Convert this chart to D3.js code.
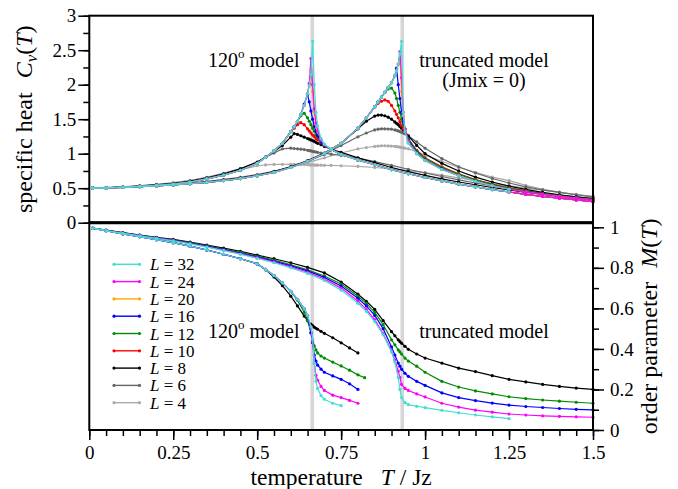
<!DOCTYPE html>
<html><head><meta charset="utf-8">
<script src="https://cdn.jsdelivr.net/npm/d3@7"></script>
<style>
body{margin:0;background:#fff}
text{font-family:"Liberation Serif","Times New Roman",serif;fill:#000}
</style>
</head><body>
<svg id="chart" width="678" height="489"></svg>
<script>
// ---------------- DATA ----------------
const L_sizes = [32, 24, 20, 16, 12, 10, 8, 6, 4];
const Tc = [0.664, 0.932];           // critical temperatures (grey bands)
const xTicks = [0, 0.25, 0.5, 0.75, 1, 1.25, 1.5];
const cvTicks = [0, 0.5, 1, 1.5, 2, 2.5, 3];
const mTicks = [0, 0.2, 0.4, 0.6, 0.8, 1];

// specific heat, 120 degree model
const T_cv120 = [0.01,0.05,0.1,0.15,0.2,0.25,0.3,0.35,0.4,0.45,
 0.5,0.525,0.55,0.575,0.6,0.61,0.62,0.63,0.64,0.65,
 0.655,0.66,0.665,0.67,0.675,0.68,0.69,0.7,0.72,0.75,
 0.8,0.85,0.9,0.95,1.0,1.05,1.1,1.15,1.2,1.25,
 1.3,1.35,1.4,1.45,1.5];
const cv120_L32 = [0.50,0.505,0.515,0.528,0.543,0.56,0.59,0.635,0.69,0.76,
 0.86,0.95,1.04,1.15,1.32,1.39,1.47,1.57,1.70,1.87,
 1.98,2.15,2.63,2.0,1.6,1.4,1.22,1.14,1.06,0.99,
 0.91,0.84,0.77,0.71,0.655,0.605,0.56,0.52,0.48,0.445,
 null,null,null,null,null];
const cv120_L24 = [0.50,0.505,0.515,0.528,0.543,0.56,0.59,0.635,0.69,0.76,
 0.86,0.95,1.04,1.15,1.32,1.39,1.47,1.57,1.70,1.87,
 2.02,2.38,2.0,1.65,1.45,1.33,1.2,1.13,1.06,0.99,
 0.91,0.84,0.77,0.71,0.655,0.605,0.56,0.52,0.48,0.445,
 0.41,0.38,0.355,0.33,0.305];
const cv120_L20 = [0.50,0.505,0.515,0.528,0.543,0.56,0.59,0.635,0.69,0.76,
 0.86,0.95,1.04,1.15,1.32,1.39,1.47,1.57,1.70,1.87,
 2.0,2.22,1.9,1.6,1.42,1.32,1.2,1.13,1.06,0.99,
 0.91,0.84,0.77,0.71,0.655,0.605,0.56,0.52,0.48,0.445,
 0.41,0.38,0.355,0.33,0.305];
const cv120_L16 = [0.50,0.505,0.515,0.528,0.543,0.56,0.59,0.635,0.69,0.76,
 0.86,0.95,1.04,1.15,1.32,1.39,1.47,1.57,1.72,1.86,
 1.75,1.62,1.5,1.4,1.32,1.26,1.17,1.12,1.06,0.99,
 0.91,0.84,0.77,0.71,0.655,0.605,0.56,0.52,0.48,0.445,
 0.41,0.38,0.355,0.33,0.305];
const cv120_L12 = [0.50,0.505,0.515,0.528,0.543,0.56,0.59,0.635,0.69,0.76,
 0.86,0.95,1.04,1.15,1.32,1.39,1.47,1.55,1.585,1.52,
 1.47,1.42,1.37,1.33,1.28,1.24,1.17,1.12,1.06,0.99,
 0.91,0.84,0.77,0.71,0.655,0.605,0.56,0.52,0.48,0.445,
 0.41,0.38,0.355,0.33,0.305];
const cv120_L10 = [0.50,0.505,0.515,0.528,0.543,0.56,0.59,0.635,0.69,0.76,
 0.86,0.95,1.04,1.15,1.32,1.37,1.42,1.45,1.42,1.36,
 1.33,1.3,1.27,1.25,1.22,1.2,1.16,1.12,1.06,0.99,
 0.91,0.84,0.77,0.71,0.655,0.605,0.56,0.52,0.48,0.445,
 0.41,0.38,0.355,0.33,0.305];
const cv120_L8 = [0.50,0.506,0.517,0.531,0.547,0.567,0.6,0.647,0.705,0.78,
 0.88,0.95,1.03,1.12,1.24,1.29,1.28,1.26,1.24,1.22,
 1.21,1.2,1.19,1.18,1.165,1.15,1.13,1.105,1.065,1.02,
 0.94,0.87,0.80,0.74,0.685,0.635,0.59,0.55,0.51,0.475,
 0.44,0.41,0.38,0.355,0.33];
const cv120_L6 = [0.50,0.507,0.519,0.534,0.552,0.574,0.608,0.656,0.715,0.785,
 0.875,0.95,1.01,1.07,1.08,1.075,1.07,1.065,1.06,1.05,
 1.045,1.04,1.035,1.03,1.025,1.02,1.01,1.005,0.995,0.975,
 0.935,0.885,0.83,0.775,0.72,0.67,0.62,0.575,0.535,0.5,
 0.465,0.43,0.4,0.375,0.35];
const cv120_L4 = [0.50,0.508,0.521,0.537,0.556,0.58,0.615,0.655,0.705,0.765,
 0.825,0.838,0.845,0.846,0.845,0.844,0.843,0.842,0.841,0.84,
 0.839,0.838,0.837,0.836,0.835,0.834,0.833,0.832,0.83,0.825,
 0.815,0.8,0.78,0.755,0.725,0.69,0.65,0.61,0.57,0.535,
 0.5,0.47,0.44,0.41,0.38];

// specific heat, truncated model (Jmix = 0)
const T_cvTr = [0.01,0.05,0.1,0.15,0.2,0.25,0.3,0.35,0.4,0.45,
 0.5,0.55,0.6,0.65,0.7,0.75,0.8,0.825,0.85,0.86,
 0.87,0.88,0.89,0.9,0.91,0.915,0.92,0.925,0.93,0.935,
 0.94,0.95,0.975,1.0,1.05,1.1,1.15,1.2,1.25,1.3,
 1.35,1.4,1.45,1.5];
const cvTr_L32 = [0.50,0.503,0.512,0.522,0.533,0.548,0.565,0.585,0.61,0.64,
 0.68,0.73,0.80,0.89,1.0,1.15,1.37,1.52,1.68,1.75,
 1.82,1.89,1.96,2.03,2.13,2.2,2.3,2.45,2.63,1.6,
 1.32,1.15,1.0,0.9,0.77,0.68,0.6,0.535,0.485,null,
 null,null,null,null];
const cvTr_L24 = [0.50,0.503,0.512,0.522,0.533,0.548,0.565,0.585,0.61,0.64,
 0.68,0.73,0.80,0.89,1.0,1.15,1.37,1.52,1.68,1.75,
 1.82,1.89,1.96,2.03,2.13,2.2,2.3,2.48,2.1,1.6,
 1.36,1.17,1.0,0.9,0.77,0.68,0.6,0.535,0.485,0.445,
 0.41,0.38,0.355,0.33];
const cvTr_L20 = [0.50,0.503,0.512,0.522,0.533,0.548,0.565,0.585,0.61,0.64,
 0.68,0.73,0.80,0.89,1.0,1.15,1.37,1.52,1.68,1.75,
 1.82,1.89,1.96,2.03,2.13,2.2,2.3,2.38,1.9,1.55,
 1.36,1.18,1.01,0.905,0.775,0.683,0.603,0.538,0.488,0.448,
 0.412,0.382,0.357,0.332];
const cvTr_L16 = [0.50,0.503,0.512,0.522,0.533,0.548,0.565,0.585,0.61,0.64,
 0.68,0.73,0.80,0.89,1.0,1.15,1.37,1.52,1.68,1.75,
 1.82,1.89,1.96,2.03,2.13,2.24,2.0,1.8,1.6,1.46,
 1.36,1.2,1.02,0.91,0.78,0.685,0.605,0.54,0.49,0.45,
 0.415,0.385,0.358,0.333];
const cvTr_L12 = [0.50,0.503,0.512,0.522,0.533,0.548,0.565,0.585,0.61,0.64,
 0.68,0.73,0.80,0.89,1.0,1.15,1.37,1.52,1.68,1.75,
 1.82,1.89,1.94,1.95,1.88,1.8,1.7,1.6,1.5,1.42,
 1.35,1.22,1.04,0.93,0.8,0.7,0.62,0.555,0.5,0.457,
 0.42,0.39,0.362,0.337];
const cvTr_L10 = [0.50,0.503,0.512,0.522,0.533,0.548,0.565,0.585,0.61,0.64,
 0.68,0.73,0.80,0.89,1.0,1.15,1.37,1.52,1.68,1.73,
 1.76,1.78,1.76,1.7,1.62,1.57,1.52,1.46,1.41,1.36,
 1.31,1.21,1.05,0.94,0.81,0.71,0.625,0.56,0.505,0.46,
 0.42,0.385,0.355,0.325];
const cvTr_L8 = [0.50,0.504,0.513,0.524,0.536,0.551,0.569,0.59,0.616,0.647,
 0.688,0.74,0.81,0.9,1.01,1.15,1.36,1.47,1.545,1.56,
 1.56,1.55,1.53,1.5,1.46,1.44,1.42,1.395,1.37,1.345,
 1.32,1.26,1.12,1.0,0.86,0.75,0.66,0.59,0.53,0.482,
 0.44,0.405,0.375,0.348];
const cvTr_L6 = [0.50,0.505,0.514,0.526,0.539,0.555,0.574,0.596,0.623,0.655,
 0.695,0.745,0.81,0.89,0.99,1.12,1.245,1.3,1.345,1.355,
 1.36,1.36,1.358,1.355,1.345,1.34,1.33,1.32,1.31,1.3,
 1.29,1.26,1.17,1.08,0.93,0.81,0.72,0.64,0.575,0.52,
 0.475,0.44,0.405,0.375];
const cvTr_L4 = [0.50,0.506,0.516,0.528,0.542,0.558,0.578,0.6,0.628,0.66,
 0.7,0.745,0.8,0.87,0.94,1.01,1.07,1.09,1.105,1.11,
 1.115,1.115,1.113,1.11,1.105,1.102,1.1,1.095,1.09,1.085,
 1.08,1.07,1.03,0.98,0.89,0.8,0.73,0.66,0.61,0.54,
 0.485,0.445,0.405,0.377];

// order parameter, 120 degree model (L = 32, 24, 16, 12, 8)
const T_m120 = [0.01,0.05,0.1,0.15,0.2,0.25,0.3,0.35,0.4,0.45,
 0.5,0.525,0.55,0.575,0.6,0.62,0.64,0.65,0.66,0.665,
 0.67,0.675,0.68,0.69,0.7,0.725,0.75,0.775,0.8,0.82];
const m120_L32 = [0.995,0.983,0.968,0.954,0.939,0.924,0.907,0.888,0.867,0.845,
 0.82,0.792,0.762,0.726,0.684,0.645,0.598,0.565,0.51,0.45,
 0.33,0.24,0.205,0.17,0.152,0.132,0.12,null,null,null];
const m120_L24 = [0.995,0.983,0.968,0.954,0.939,0.924,0.907,0.888,0.867,0.845,
 0.82,0.792,0.762,0.726,0.684,0.645,0.598,0.565,0.505,0.44,
 0.33,0.27,0.245,0.215,0.195,0.172,0.16,0.146,0.132,null];
const m120_L16 = [0.995,0.983,0.968,0.954,0.939,0.924,0.907,0.888,0.867,0.845,
 0.82,0.792,0.762,0.726,0.684,0.645,0.598,0.562,0.48,0.43,
 0.37,0.34,0.32,0.3,0.285,0.267,0.25,0.228,0.2,null];
const m120_L12 = [0.995,0.983,0.968,0.954,0.939,0.924,0.907,0.888,0.867,0.845,
 0.82,0.792,0.762,0.726,0.684,0.64,0.58,0.54,0.48,0.445,
 0.415,0.395,0.38,0.365,0.355,0.335,0.316,0.295,0.272,0.258];
const m120_L8 = [0.995,0.983,0.968,0.954,0.939,0.924,0.907,0.888,0.867,0.845,
 0.82,0.79,0.755,0.712,0.66,0.612,0.562,0.54,0.522,0.515,
 0.508,0.502,0.497,0.487,0.477,0.455,0.43,0.405,0.38,null];

// order parameter, truncated model (L = 32, 24, 16, 12, 8)
const T_mTr = [0.01,0.05,0.1,0.15,0.2,0.25,0.3,0.35,0.4,0.45,
 0.5,0.55,0.6,0.65,0.7,0.75,0.8,0.825,0.85,0.875,
 0.9,0.91,0.92,0.925,0.93,0.94,0.95,0.975,1.0,1.05,
 1.1,1.15,1.2,1.25,1.3,1.35,1.4,1.45,1.5];
const mTr_L32 = [0.996,0.984,0.97,0.958,0.946,0.933,0.918,0.902,0.885,0.867,
 0.847,0.825,0.8,0.772,0.738,0.69,0.625,0.585,0.535,0.47,
 0.385,0.335,0.26,0.2,0.16,0.135,0.125,0.117,0.11,0.097,
 0.085,0.074,0.065,0.056,null,null,null,null,null];
const mTr_L24 = [0.996,0.984,0.971,0.959,0.947,0.934,0.92,0.904,0.887,0.869,
 0.85,0.829,0.805,0.778,0.745,0.7,0.635,0.595,0.545,0.475,
 0.39,0.345,0.29,0.26,0.225,0.205,0.195,0.178,0.163,0.132,
 0.113,0.098,0.088,0.079,0.074,0.07,0.067,0.065,0.063];
const mTr_L16 = [0.996,0.985,0.972,0.96,0.948,0.936,0.922,0.906,0.89,0.872,
 0.854,0.833,0.81,0.785,0.753,0.71,0.65,0.612,0.565,0.5,
 0.41,0.37,0.33,0.315,0.3,0.28,0.265,0.24,0.22,0.183,
 0.16,0.145,0.133,0.123,0.116,0.111,0.106,0.102,0.099];
const mTr_L12 = [0.996,0.985,0.973,0.961,0.949,0.937,0.924,0.909,0.893,0.876,
 0.858,0.838,0.815,0.79,0.76,0.72,0.66,0.625,0.58,0.52,
 0.445,0.42,0.395,0.385,0.375,0.355,0.34,0.315,0.285,0.24,
 0.212,0.193,0.178,0.164,0.155,0.148,0.142,0.137,0.132];
const mTr_L8 = [0.996,0.986,0.974,0.962,0.951,0.94,0.927,0.912,0.897,0.881,
 0.863,0.845,0.825,0.802,0.775,0.73,0.67,0.635,0.595,0.54,
 0.485,0.465,0.445,0.436,0.428,0.413,0.398,0.375,0.355,0.33,
 0.305,0.288,0.268,0.25,0.237,0.225,0.215,0.207,0.2];

// ---------------- STYLE ----------------
const colorOf = {32:"#40e0d0",24:"#ff00ff",20:"#ffa500",16:"#0000ff",12:"#008c00",10:"#ff0000",8:"#000000",6:"#666666",4:"#aaaaaa"};

const cv120 = [cv120_L32,cv120_L24,cv120_L20,cv120_L16,cv120_L12,cv120_L10,cv120_L8,cv120_L6,cv120_L4];
const cvTr  = [cvTr_L32,cvTr_L24,cvTr_L20,cvTr_L16,cvTr_L12,cvTr_L10,cvTr_L8,cvTr_L6,cvTr_L4];
const mL = [32,24,16,12,8];
const m120 = [m120_L32,m120_L24,m120_L16,m120_L12,m120_L8];
const mTr  = [mTr_L32,mTr_L24,mTr_L16,mTr_L12,mTr_L8];

// ---------------- LAYOUT ----------------
const pL = 89.3, pR = 593, pT = 15.7, pMid = 222.7, pB = 430;
const svg = d3.select("#chart");
const x = d3.scaleLinear().domain([0, 1.5]).range([pL, pR]);
const yCv = d3.scaleLinear().domain([0, 3]).range([pMid, pT]);
const yM = d3.scaleLinear().domain([0, 1.0227]).range([pB, pMid]);
const fmt = d => String(+d.toFixed(2));

// grey Tc bands
svg.append("g").selectAll("rect").data(Tc).enter().append("rect")
  .attr("x", d => x(d) - 1.8).attr("width", 3.6)
  .attr("y", pT).attr("height", pB - pT).attr("fill", "#d6d6d6");

function drawSeries(g, T, vals, y, color) {
  const pts = T.map((t, i) => ({t, v: vals[i]})).filter(d => d.v != null);
  g.append("path").datum(pts)
    .attr("d", d3.line().x(d => x(d.t)).y(d => y(d.v)))
    .attr("fill", "none").attr("stroke", color).attr("stroke-width", 1.2);
  g.selectAll(null).data(pts).enter().append("circle")
    .attr("cx", d => x(d.t)).attr("cy", d => y(d.v)).attr("r", 1.6).attr("fill", color);
}

const gC = svg.append("g");
for (let i = L_sizes.length - 1; i >= 0; i--) {
  drawSeries(gC, T_cvTr, cvTr[i], yCv, colorOf[L_sizes[i]]);
  drawSeries(gC, T_cv120, cv120[i], yCv, colorOf[L_sizes[i]]);
}
const gM = svg.append("g");
for (let i = mL.length - 1; i >= 0; i--) {
  drawSeries(gM, T_mTr, mTr[i], yM, colorOf[mL[i]]);
  drawSeries(gM, T_m120, m120[i], yM, colorOf[mL[i]]);
}

// frames
svg.append("rect").attr("x", pL).attr("y", pT).attr("width", pR - pL).attr("height", pMid - pT)
  .attr("fill", "none").attr("stroke", "#000").attr("stroke-width", 2);
svg.append("rect").attr("x", pL).attr("y", pMid).attr("width", pR - pL).attr("height", pB - pMid)
  .attr("fill", "none").attr("stroke", "#000").attr("stroke-width", 2);
svg.append("line").attr("x1", pL).attr("x2", pR).attr("y1", pMid).attr("y2", pMid)
  .attr("stroke", "#000").attr("stroke-width", 3);

// axes
function styleAxis(g) {
  g.select(".domain").remove();
  g.selectAll("line").attr("stroke", "#000").attr("stroke-width", 1.5);
  g.selectAll("text").style("font-family", '"Liberation Serif","Times New Roman",serif').attr("font-size", 19).attr("fill", "#000");
}
const xMinor = d3.range(0, 1.5001, 0.05);
svg.append("g").attr("transform", `translate(0,${pB})`)
  .call(d3.axisBottom(x).tickValues(xMinor).tickSize(6).tickFormat("")).call(styleAxis);
svg.append("g").attr("transform", `translate(0,${pB})`)
  .call(d3.axisBottom(x).tickValues(xTicks).tickSize(10).tickPadding(5.5).tickFormat(fmt)).call(styleAxis);

svg.append("g").attr("transform", `translate(${pL},0)`)
  .call(d3.axisLeft(yCv).tickValues(d3.range(0, 3.001, 0.25)).tickSize(6).tickFormat("")).call(styleAxis);
svg.append("g").attr("transform", `translate(${pL},0)`)
  .call(d3.axisLeft(yCv).tickValues(cvTicks).tickSize(11).tickPadding(2).tickFormat(fmt)).call(styleAxis);

svg.append("g").attr("transform", `translate(${pR},0)`)
  .call(d3.axisRight(yM).tickValues(d3.range(0, 1.001, 0.1)).tickSize(6).tickFormat("")).call(styleAxis);
svg.append("g").attr("transform", `translate(${pR},0)`)
  .call(d3.axisRight(yM).tickValues(mTicks).tickSize(11).tickPadding(6).tickFormat(fmt)).call(styleAxis);

// axis titles
const lt = svg.append("text").attr("transform", `translate(32,${(pT + pMid) / 2}) rotate(-90)`)
  .attr("text-anchor", "middle").attr("font-size", 24);
lt.append("tspan").text("specific heat");
lt.append("tspan").attr("dx", 14).attr("font-style", "italic").text("C");
lt.append("tspan").attr("dy", 5).attr("font-size", 17).attr("font-style", "italic").text("v");
lt.append("tspan").attr("dy", -5).text("(");
lt.append("tspan").attr("font-style", "italic").text("T");
lt.append("tspan").text(")");

const rt = svg.append("text").attr("transform", `translate(657,${(pMid + pB) / 2}) rotate(-90)`)
  .attr("text-anchor", "middle").attr("font-size", 24);
rt.append("tspan").text("order parameter");
rt.append("tspan").attr("dx", 14).attr("font-style", "italic").text("M");
rt.append("tspan").text("(");
rt.append("tspan").attr("font-style", "italic").text("T");
rt.append("tspan").text(")");

const bt = svg.append("text").attr("x", (pL + pR) / 2).attr("y", 484.5)
  .attr("text-anchor", "middle").attr("font-size", 23.5);
bt.append("tspan").text("temperature");
bt.append("tspan").attr("dx", 18).attr("font-style", "italic").text("T");
bt.append("tspan").text(" / Jz");

// annotations
function model120(yb) {
  const t = svg.append("text").attr("x", 208).attr("y", yb).attr("font-size", 20);
  t.append("tspan").text("120");
  t.append("tspan").attr("dy", -9).attr("font-size", 13).text("o");
  t.append("tspan").attr("dy", 9).text(" model");
}
model120(66.7);
model120(338.3);
svg.append("text").attr("x", 484).attr("y", 66.7).attr("text-anchor", "middle").attr("font-size", 20).text("truncated model");
svg.append("text").attr("x", 484).attr("y", 87.3).attr("text-anchor", "middle").attr("font-size", 20).text("(Jmix = 0)");
svg.append("text").attr("x", 484).attr("y", 338.3).attr("text-anchor", "middle").attr("font-size", 20).text("truncated model");

// legend
const lg = svg.append("g");
L_sizes.forEach((L, i) => {
  const yy = 264.3 + i * 17.3;
  const c = colorOf[L];
  lg.append("line").attr("x1", 114).attr("x2", 139.5).attr("y1", yy).attr("y2", yy).attr("stroke", c).attr("stroke-width", 1.4);
  [114, 139.5].forEach(cx => lg.append("circle").attr("cx", cx).attr("cy", yy).attr("r", 1.6).attr("fill", c));
  const t = lg.append("text").attr("x", 150).attr("y", yy + 6).attr("font-size", 17);
  t.append("tspan").attr("font-style", "italic").text("L");
  t.append("tspan").text(" = " + L);
});
</script>
</body></html>
